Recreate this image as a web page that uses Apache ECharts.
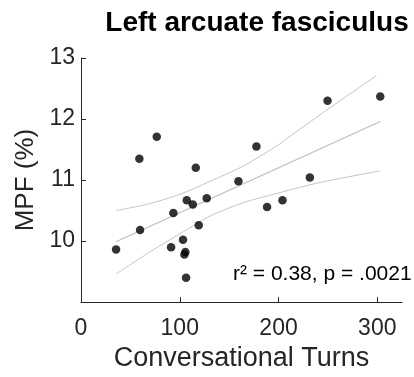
<!DOCTYPE html>
<html>
<head>
<meta charset="utf-8">
<script src="https://cdn.jsdelivr.net/npm/echarts@6/dist/echarts.min.js"></script>
<style>
  html, body { margin: 0; padding: 0; background: #fff; }
  #chart { width: 414px; height: 377px; }
</style>
</head>
<body>
<div id="chart"></div>
<script>
// conversational turns vs MPF
const turns = [35.5, 59.1, 76.7, 59.8, 93.5, 91.2, 103.3, 104.7, 105.7, 106.4, 107.1,
  113.2, 116.2, 119.2, 127.3, 159.4, 177.6, 188.4, 204, 231.7, 249.6, 303]
const mpf = [9.86, 11.35, 11.71, 10.18, 10.46, 9.9, 10.02, 9.78, 9.82, 9.4, 10.67,
  10.6, 11.2, 10.26, 10.7, 10.98, 11.55, 10.56, 10.67, 11.04, 12.3, 12.37]

// regression line + confidence bands
const fitX = [35.5, 303]
const fitY = [9.99, 11.96]
const upperX = [35.5, 68.6, 102.3, 130.7, 164.4, 198.3, 211.8, 245.5, 279.3, 299]
const upperY = [10.5, 10.61, 10.78, 10.98, 11.23, 11.56, 11.72, 12.11, 12.49, 12.71]
const lowerX = [35.5, 68.6, 102.3, 130.7, 164.4, 198.3, 211.8, 242.1, 279.3, 303]
const lowerY = [9.46, 9.81, 10.14, 10.41, 10.63, 10.78, 10.84, 10.96, 11.08, 11.15]

const xLabels = [0, 100, 200, 300]
const xTicks = [100, 200, 300]
const yLabels = [10, 11, 12, 13]

const statText = "r\u00b2 = 0.38, p = .0021"

const FONT = "Liberation Sans"
const AXIS_COLOR = "#262626"
const BAND_COLOR = "#c4c4c4"

function zip(xs, ys) {
  return xs.map((x, i) => [x, ys[i]])
}

const chart = echarts.init(document.getElementById("chart"))

chart.setOption({
  animation: false,
  title: {
    text: "Left arcuate fasciculus",
    left: 252,
    top: 4,
    textAlign: "center",
    textStyle: { fontFamily: FONT, fontSize: 28, fontWeight: "bold", color: "#000" },
  },
  grid: { left: 81, right: 12, top: 58, bottom: 68 },
  xAxis: {
    type: "value",
    min: 0,
    max: 325,
    name: "Conversational Turns",
    nameLocation: "middle",
    nameGap: 40,
    nameTextStyle: { fontFamily: FONT, fontSize: 27, color: AXIS_COLOR },
    axisLine: { lineStyle: { color: AXIS_COLOR, width: 1 } },
    axisTick: { inside: true, length: 5, customValues: xTicks, lineStyle: { color: AXIS_COLOR } },
    axisLabel: { customValues: xLabels, margin: 15, fontFamily: FONT, fontSize: 23, color: AXIS_COLOR },
    splitLine: { show: false },
  },
  yAxis: {
    type: "value",
    min: 9,
    max: 13,
    name: "MPF (%)",
    nameLocation: "middle",
    nameGap: 38,
    nameTextStyle: { fontFamily: FONT, fontSize: 26, color: AXIS_COLOR },
    axisLine: { show: true, lineStyle: { color: AXIS_COLOR, width: 1 } },
    axisTick: { show: true, inside: true, length: 5, customValues: yLabels, lineStyle: { color: AXIS_COLOR } },
    axisLabel: { customValues: yLabels, margin: 6, fontFamily: FONT, fontSize: 23, color: AXIS_COLOR },
    splitLine: { show: false },
  },
  series: [
    {
      type: "line",
      data: zip(upperX, upperY),
      showSymbol: false,
      smooth: 0.3,
      lineStyle: { color: BAND_COLOR, width: 1 },
    },
    {
      type: "line",
      data: zip(lowerX, lowerY),
      showSymbol: false,
      smooth: 0.3,
      lineStyle: { color: BAND_COLOR, width: 1 },
    },
    {
      type: "line",
      data: zip(fitX, fitY),
      showSymbol: false,
      lineStyle: { color: "#bdbdbd", width: 1.2 },
    },
    {
      type: "scatter",
      data: zip(turns, mpf),
      symbolSize: 8.5,
      itemStyle: { color: "#000" },
      z: 5,
    },
  ],
  graphic: [
    {
      type: "text",
      left: 233,
      top: 264,
      style: { text: statText, font: "21px " + FONT, fill: "#000" },
    },
  ],
})
</script>
</body>
</html>
